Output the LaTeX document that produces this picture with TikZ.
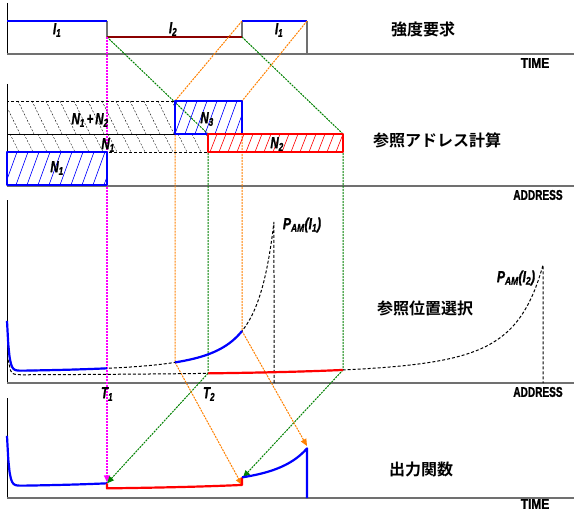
\documentclass[tikz,border=0pt]{standalone}
\usepackage{fontspec}
\setmainfont{Liberation Sans}
\newfontfamily\heavyfont{Liberation Sans}[FakeBold=1.5]
\newfontfamily\jpfont{Noto Sans CJK JP}[BoldFont={Noto Sans CJK JP Bold}]
\usetikzlibrary{arrows.meta}
\definecolor{lvlblue}{HTML}{0000FF}
\definecolor{lvlred}{HTML}{FF0000}
\definecolor{lvldark}{HTML}{8B0000}
\definecolor{guidegreen}{HTML}{008000}
\definecolor{guideorange}{HTML}{FF8000}
\definecolor{guidemag}{HTML}{FF00FF}
\definecolor{axgray}{HTML}{707070}

\tikzset{
  axisline/.style={draw=axgray, line width=1.5pt},
  yaxis/.style={draw=black, line width=0.8pt},
  bluelvl/.style={draw=lvlblue, line width=2.2pt, line join=round},
  redlvl/.style={draw=lvlred, line width=2.2pt, line join=round},
  darklvl/.style={draw=lvldark, line width=2pt},
  edgegray/.style={draw=axgray, line width=1.4pt},
  guide/.style={line width=1pt, dash pattern=on 2pt off 1pt},
  guidearrow/.style={guide, -{Triangle[length=7pt,width=6pt]}},
  hatchblack/.style={draw=black, line width=0.4pt, dash pattern=on 2pt off 1.5pt},
  hatchblue/.style={draw=lvlblue, line width=0.6pt},
  hatchred/.style={draw=lvlred, line width=0.6pt},
  dashbox/.style={draw=black, line width=0.8pt, dash pattern=on 3pt off 2pt},
  dashcurve/.style={draw=black, line width=1pt, dash pattern=on 3pt off 2pt},
  lbl/.style={font=\heavyfont\fontsize{16}{16}\selectfont\bfseries\itshape, xscale=0.72, inner sep=0},
  axlbl/.style={font=\heavyfont\fontsize{14}{14}\selectfont\bfseries, inner sep=0},
  paneltitle/.style={font=\jpfont\fontsize{16}{16}\selectfont\bfseries, inner sep=0}
}

\begin{document}
\begin{tikzpicture}[x=1pt, y=-1pt,
  declare function={h1(\t)=10+(438.7/(309.7-\t))^2+50*exp(-(\t-7)/2);
                    h2(\t)=7+(642.6/(604-\t))^2+25*exp(-(\t-7)/2);}]
  \useasboundingbox (0,0) rectangle (574,511);

  % Key points
  \coordinate (i1end)   at (107,37);
  \coordinate (i2end)   at (242,37);
  \coordinate (i1bbeg)  at (242,21);
  \coordinate (i1bend)  at (307,21);
  \coordinate (n3tl)    at (175,101);
  \coordinate (n3tr)    at (242,101);
  \coordinate (n3bl)    at (175,134);
  \coordinate (n3br)    at (242,134);
  \coordinate (n2tl)    at (208,134);
  \coordinate (n2tr)    at (343,134);
  \coordinate (p1a)     at (175,{383-h1(175)});
  \coordinate (p1b)     at (242,{383-h1(242)});
  \coordinate (p2a)     at (208,{383-h2(208)});
  \coordinate (p2b)     at (343,{383-h2(343)});
  \coordinate (out1)    at (107,{498-h1(107)});
  \coordinate (out2r)   at (242,{498-h2(343)});
  \coordinate (out2b)   at (243,{498-h1(175)});
  \coordinate (out3)    at (307,{498-h1(242)});
  \coordinate (magend)  at (107,{498-h1(107)-1});

  % Axes
  \draw[yaxis] (7,3) -- (7,54);
  \draw[yaxis] (7,84) -- (7,186);
  \draw[yaxis] (7,200) -- (7,383);
  \draw[yaxis] (7,398) -- (7,498);
  \draw[axisline] (7,54) -- (574,54);
  \draw[axisline] (7,186) -- (574,186);
  \draw[axisline] (7,383) -- (574,383);
  \draw[axisline] (7,498) -- (574,498);

  % Strength demand
  \draw[edgegray] (107,21) -- (i1end);
  \draw[edgegray] (242,21) -- (i2end);
  \draw[edgegray] (i1bend) -- (307,54);
  \draw[bluelvl] (7,21) -- (107,21);
  \draw[darklvl] (i1end) -- (i2end);
  \draw[bluelvl] (i1bbeg) -- (i1bend);
  \node[lbl] (li1a) at (57,30) {I\textsubscript{1}};
  \node[lbl] (li2) at (173,29) {I\textsubscript{2}};
  \node[lbl] (li1b) at (279,30) {I\textsubscript{1}};

  % Guides
  \draw[guide, guidegreen] (i1end) -- (n2tl) -- (p2a);
  \draw[guide, guidegreen] (i2end) -- (n2tr) -- (p2b);
  \draw[guide, guideorange] (i1bbeg) -- (n3tl) -- (p1a);
  \draw[guide, guideorange] (i1bend) -- (n3tr) -- (p1b);
  \draw[guidearrow, guidemag, line width=1.4pt] (i1end) -- (magend);
  \draw[guidearrow, guidegreen] (p2a) -- (out1);
  \draw[guidearrow, guidegreen] (p2b) -- (out2b);
  \draw[guidearrow, guideorange] (p1a) -- (out2r);
  \draw[guidearrow, guideorange] (p1b) -- (out3);

  % Address blocks: hatching
  \begin{scope}
    \clip (7,101) rectangle (175,134);
    \foreach \hx in {-10,4,...,175} \draw[hatchblack] (\hx,101) -- ++(16,33);
  \end{scope}
  \begin{scope}
    \clip (7,134) rectangle (208,152);
    \foreach \hx in {-4,10,...,208} \draw[hatchblack] (\hx,134) -- ++(9,18);
  \end{scope}
  \begin{scope}
    \clip (7,152) rectangle (107,185);
    \foreach \hx in {-6,5,...,107} \draw[hatchblue] (\hx,185) -- ++(12,-33);
  \end{scope}
  \begin{scope}
    \clip (n3tl) rectangle (n3br);
    \foreach \hx in {165,175,...,242} \draw[hatchblue] (\hx,134) -- ++(12,-33);
  \end{scope}
  \begin{scope}
    \clip (n2tl) rectangle (343,152);
    \foreach \hx in {201,210,...,343} \draw[hatchred] (\hx,152) -- ++(7,-18);
  \end{scope}

  % Address blocks: frames
  \draw[dashbox] (7,101) rectangle (n3bl);
  \draw[dashbox] (7,134) rectangle (208,152);
  \draw[bluelvl, line width=2.5pt] (7,152) rectangle (107,185);
  \draw[bluelvl, line width=2.5pt] (n3tl) rectangle (n3br);
  \draw[redlvl, line width=2.5pt] (n2tl) rectangle (343,152);
  \node[lbl] (ln12) at (90,120) {N\textsubscript{1}\,+\,N\textsubscript{2}};
  \node[lbl] (ln3) at (207,119) {N\textsubscript{3}};
  \node[lbl] (ln1d) at (108,145) {N\textsubscript{1}};
  \node[lbl] (ln2) at (277,144) {N\textsubscript{2}};
  \node[lbl] (ln1) at (57,168) {N\textsubscript{1}};

  % Position selection curves
  \draw[dashcurve] plot[domain=8:274, samples=160, variable=\t] (\t,{383-h1(\t)})
    -- (274,383);
  \draw[dashcurve] plot[domain=8:543, samples=200, variable=\t] (\t,{383-h2(\t)})
    -- (543,383);
  \draw[bluelvl] plot[domain=7:107, samples=80, variable=\t] (\t,{383-h1(\t)});
  \draw[bluelvl] plot[domain=175:242, samples=40, variable=\t] (\t,{383-h1(\t)});
  \draw[redlvl] plot[domain=208:343, samples=20, variable=\t] (\t,{383-h2(\t)});
  \node[lbl, xscale=1.05] (lp1) at (302,225)
    {P\textsubscript{AM}(I\textsubscript{1})};
  \node[lbl, xscale=1.05] (lp2) at (516,278)
    {P\textsubscript{AM}(I\textsubscript{2})};
  \node[lbl] (lt1) at (107,394) {T\textsubscript{1}};
  \node[lbl] (lt2) at (209,394) {T\textsubscript{2}};

  % Output function
  \draw[bluelvl] plot[domain=7:107, samples=80, variable=\t] (\t,{498-h1(\t)});
  \draw[redlvl] (out1) -- plot[domain=107:242, samples=20, variable=\t]
    (\t,{498-h2(\t+101)}) -- (242,{498-h1(175)});
  \draw[bluelvl] plot[domain=242:307, samples=40, variable=\t] (\t,{498-h1(\t-67)})
    -- (307,498);

  % Panel titles and axis names
  \node[paneltitle] (tdemand) at (423,29) {強度要求};
  \node[paneltitle] (taddr) at (437,140) {参照アドレス計算};
  \node[paneltitle] (tpos) at (425,308) {参照位置選択};
  \node[paneltitle] (tout) at (421,469) {出力関数};
  \node[axlbl, xscale=0.85] (xtime1) at (535,63) {TIME};
  \node[axlbl, xscale=0.72] (xaddr1) at (538,195) {ADDRESS};
  \node[axlbl, xscale=0.72] (xaddr2) at (538,392) {ADDRESS};
  \node[axlbl, xscale=0.85] (xtime2) at (535,504) {TIME};
\end{tikzpicture}
\end{document}
